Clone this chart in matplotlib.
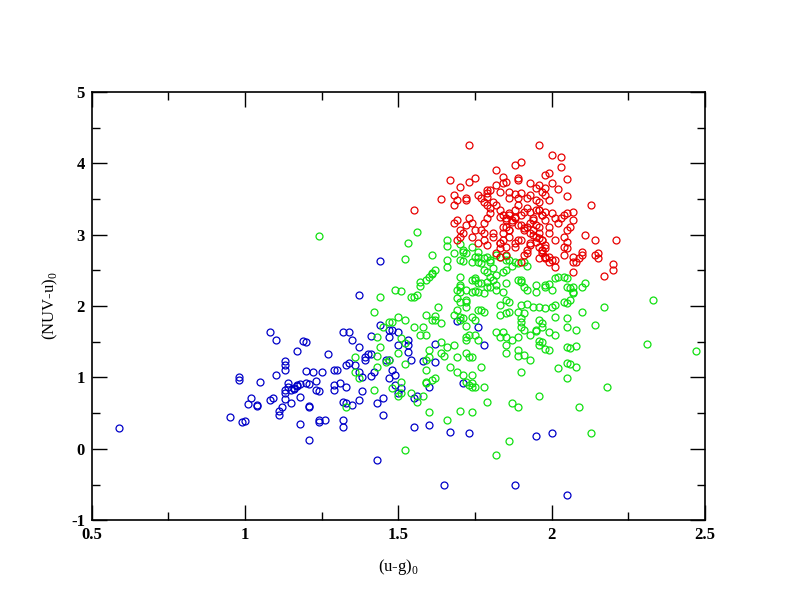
import numpy as np
import matplotlib
matplotlib.use("Agg")
import matplotlib.pyplot as plt

plt.rcParams['font.family'] = ['Liberation Serif', 'DejaVu Serif']
plt.rcParams['mathtext.fontset'] = 'custom'
plt.rcParams['mathtext.rm'] = 'Liberation Serif'
plt.rcParams['axes.unicode_minus'] = False

# (u-g)0, (NUV-u)0
blue_pts = [
    (0.59, 0.29), (0.95, 0.45), (0.99, 0.37), (1.00, 0.39), (0.98, 1.00), (0.98, 0.96), (1.05, 0.93),
    (1.01, 0.63), (1.02, 0.71), (1.04, 0.62), (1.04, 0.60), (1.08, 0.68), (1.09, 0.71), (1.08, 1.64),
    (1.10, 1.52), (1.10, 1.04), (1.11, 0.53), (1.11, 0.48), (1.12, 0.58), (1.13, 1.23), (1.13, 1.18),
    (1.13, 1.10), (1.13, 0.83), (1.13, 0.78), (1.13, 0.70), (1.14, 0.92), (1.14, 0.87), (1.15, 0.82),
    (1.16, 0.85), (1.17, 0.88), (1.18, 0.91), (1.20, 0.92), (1.15, 0.64), (1.18, 0.73), (1.18, 0.35),
    (1.17, 1.37), (1.19, 1.51), (1.20, 1.50), (1.20, 1.09), (1.21, 0.60), (1.21, 0.58), (1.21, 0.13),
    (1.27, 1.33), (1.22, 1.07), (1.25, 1.07), (1.29, 1.10), (1.30, 1.10), (1.16, 0.84), (1.17, 0.89),
    (1.21, 0.91), (1.23, 0.95), (1.23, 0.82), (1.24, 0.81), (1.29, 0.89), (1.29, 0.82), (1.31, 0.92),
    (1.24, 0.41), (1.24, 0.38), (1.26, 0.40), (1.44, 2.63), (1.37, 2.15), (1.44, 1.73), (1.32, 1.64),
    (1.34, 1.64), (1.35, 1.52), (1.37, 1.43), (1.41, 1.58), (1.47, 1.66), (1.48, 1.66), (1.50, 1.63),
    (1.47, 1.57), (1.50, 1.45), (1.53, 1.53), (1.53, 1.45), (1.53, 1.35), (1.54, 1.24), (1.62, 1.47),
    (1.62, 1.21), (1.58, 1.23), (1.60, 0.87), (1.39, 1.25), (1.39, 1.29), (1.40, 1.33), (1.41, 1.33),
    (1.33, 1.17), (1.34, 1.20), (1.36, 1.17), (1.37, 1.08), (1.38, 1.01), (1.41, 1.02), (1.42, 1.08),
    (1.46, 1.24), (1.47, 1.24), (1.48, 1.11), (1.49, 1.03), (1.47, 0.99), (1.33, 0.87), (1.38, 0.81),
    (1.49, 0.89), (1.51, 0.85), (1.56, 0.74), (1.55, 0.71), (1.32, 0.66), (1.33, 0.64), (1.35, 0.61),
    (1.37, 0.68), (1.43, 0.64), (1.45, 0.71), (1.32, 0.40), (1.32, 0.31), (1.45, 0.48), (1.55, 0.31),
    (1.60, 0.33), (1.67, 0.24), (1.73, 0.22), (1.43, -0.15), (1.69, 1.79), (1.76, 1.71), (1.71, 0.92),
    (1.78, 1.45), (1.95, 0.18), (2.00, 0.22), (1.65, -0.51), (1.88, -0.51), (2.05, -0.65), (1.50, 0.78),
]

green_pts = [
    (1.24, 2.98), (1.56, 3.04), (1.53, 2.88), (1.61, 2.71), (1.52, 2.66), (1.62, 2.50), (1.61, 2.45),
    (1.59, 2.37), (1.57, 2.34), (1.57, 2.28), (1.61, 2.46), (1.60, 2.41), (1.49, 2.23), (1.51, 2.21),
    (1.54, 2.12), (1.55, 2.12), (1.56, 2.15), (1.44, 2.12), (1.42, 1.92), (1.63, 1.98), (1.59, 1.87),
    (1.61, 1.81), (1.62, 1.80), (1.64, 1.76), (1.62, 1.86), (1.50, 1.85), (1.52, 1.81), (1.47, 1.77),
    (1.48, 1.77), (1.45, 1.70), (1.55, 1.70), (1.58, 1.70), (1.57, 1.59), (1.59, 1.59), (1.43, 1.57),
    (1.44, 1.43), (1.60, 1.38), (1.64, 1.49), (1.66, 1.43), (1.64, 1.34), (1.65, 1.30), (1.51, 1.55),
    (1.52, 1.48), (1.50, 1.34), (1.47, 1.25), (1.46, 1.21), (1.52, 1.19), (1.59, 1.24), (1.59, 1.11),
    (1.60, 1.29), (1.36, 1.29), (1.36, 1.08), (1.37, 0.99), (1.43, 1.30), (1.43, 1.15), (1.59, 0.92),
    (1.61, 0.96), (1.62, 0.99), (1.42, 0.82), (1.48, 0.85), (1.51, 0.78), (1.50, 0.74), (1.54, 0.78),
    (1.56, 0.66), (1.58, 0.74), (1.60, 0.52), (1.33, 0.59), (1.66, 0.40), (1.70, 0.53), (1.74, 0.51),
    (1.52, -0.02), (1.51, 0.94), (1.59, 0.94),
    (1.66, 2.92), (1.66, 2.84), (1.70, 2.87), (1.71, 2.75), (1.72, 2.74), (1.74, 2.82), (1.76, 2.76),
    (1.68, 2.74), (1.66, 2.65), (1.71, 2.63), (1.74, 2.61), (1.76, 2.68), (1.66, 2.55), (1.70, 2.64),
    (1.70, 2.40), (1.70, 2.29), (1.69, 2.22), (1.70, 2.20), (1.72, 2.22), (1.74, 2.20), (1.75, 2.21),
    (1.76, 2.19), (1.75, 2.37), (1.69, 2.11), (1.70, 2.06), (1.72, 1.98), (1.69, 1.94), (1.72, 2.08),
    (1.72, 2.06), (1.68, 1.87), (1.70, 1.85), (1.71, 1.83), (1.72, 1.72), (1.70, 1.80), (1.75, 1.80),
    (1.76, 1.95), (1.72, 1.57), (1.73, 1.59), (1.72, 1.53), (1.75, 1.59), (1.76, 1.52), (1.68, 1.45),
    (1.69, 1.29), (1.72, 1.34), (1.73, 1.28), (1.74, 1.29), (1.67, 1.15), (1.69, 1.08), (1.71, 1.03),
    (1.74, 1.03), (1.74, 0.92), (1.74, 0.87), (1.72, 0.94), (1.73, 0.89), (1.75, 0.87), (1.78, 0.87),
    (1.77, 1.14), (1.79, 0.65), (1.77, 2.60), (1.78, 2.67), (1.79, 2.69), (1.80, 2.65), (1.80, 2.62),
    (1.78, 2.51), (1.79, 2.48), (1.81, 2.53), (1.80, 2.41), (1.81, 2.36), (1.82, 2.43), (1.84, 2.47),
    (1.75, 2.39), (1.77, 2.32), (1.79, 2.33), (1.80, 2.26), (1.82, 2.23), (1.84, 2.19), (1.78, 2.18),
    (1.77, 1.94), (1.78, 1.92), (1.74, 1.84), (1.74, 2.36), (1.71, 2.79), (1.75, 2.69), (1.76, 2.62),
    (1.82, 2.71), (1.83, 2.69), (1.85, 2.70), (1.85, 2.65), (1.86, 2.64), (1.88, 2.62), (1.89, 2.60),
    (1.91, 2.62), (1.92, 2.56), (1.87, 2.56), (1.85, 2.50), (1.90, 2.36), (1.90, 2.33), (1.91, 2.26),
    (1.92, 2.22), (1.95, 2.29), (1.95, 2.20), (1.98, 2.27), (1.99, 2.31), (2.00, 2.22), (2.02, 2.41),
    (2.04, 2.41), (2.05, 2.39), (1.85, 2.08), (1.86, 2.06), (1.83, 2.01), (1.83, 1.87), (1.85, 1.90),
    (1.86, 1.92), (1.90, 2.01), (1.89, 1.92), (1.91, 1.90), (1.92, 2.03), (1.94, 1.98), (1.96, 1.99),
    (1.98, 1.97), (2.00, 1.98), (2.01, 2.01), (2.01, 1.84), (1.90, 1.83), (1.90, 1.71), (1.91, 1.66),
    (1.90, 1.78), (1.96, 1.80), (1.97, 1.76), (1.95, 1.66), (2.04, 2.06), (2.05, 2.04), (2.06, 2.08),
    (2.05, 1.83), (2.05, 1.71), (2.06, 2.25), (2.07, 2.27), (2.07, 2.20), (2.11, 2.32), (2.10, 1.92),
    (2.17, 1.99), (2.08, 1.66), (2.14, 1.73), (1.96, 1.51), (1.97, 1.50), (1.96, 1.45), (1.98, 1.40),
    (1.99, 1.38), (1.89, 1.38), (1.89, 1.30), (1.91, 1.31), (1.93, 1.24), (1.85, 1.34), (1.83, 1.57),
    (1.82, 1.64), (1.84, 1.64), (1.85, 1.57), (1.85, 1.45), (1.87, 1.52), (1.89, 1.57), (1.93, 1.59),
    (1.95, 1.65), (1.97, 1.71), (1.99, 1.64), (2.01, 1.59), (2.05, 1.42), (2.08, 1.44), (2.06, 1.41),
    (2.02, 1.13), (2.05, 1.20), (2.08, 1.15), (2.06, 1.19), (1.90, 1.07), (2.05, 0.99), (2.18, 0.86),
    (1.96, 0.74), (1.87, 0.64), (1.89, 0.59), (2.09, 0.59), (2.13, 0.22), (1.86, 0.11), (1.82, -0.09),
    (2.33, 2.08), (2.31, 1.47), (2.47, 1.37), (1.70, 2.27), (1.76, 2.32), (1.79, 2.27), (1.82, 2.29),
    (1.85, 2.32), (1.89, 2.36), (2.01, 2.39), (2.05, 2.27), (2.07, 2.18), (1.98, 2.29), (2.10, 2.27),
]

red_pts = [
    (1.73, 4.26), (1.96, 4.26), (2.00, 4.12), (2.03, 4.08), (2.03, 3.94), (1.88, 3.98), (1.90, 4.02),
    (1.82, 3.91), (1.67, 3.77), (1.73, 3.73), (1.75, 3.79), (1.70, 3.66), (1.64, 3.50), (1.68, 3.56),
    (1.68, 3.42), (1.69, 3.49), (1.72, 3.49), (1.72, 3.51), (1.76, 3.56), (1.77, 3.51), (1.78, 3.46),
    (1.79, 3.58), (1.79, 3.53), (1.79, 3.63), (1.84, 3.81), (1.84, 3.72), (1.89, 3.79), (1.89, 3.77),
    (1.85, 3.74), (1.82, 3.70), (1.83, 3.60), (1.80, 3.62), (1.86, 3.60), (1.86, 3.51), (1.88, 3.57),
    (1.89, 3.51), (1.89, 3.42), (1.90, 3.58), (1.93, 3.72), (1.95, 3.65), (1.96, 3.70), (1.97, 3.60),
    (1.98, 3.84), (1.99, 3.86), (2.00, 3.72), (1.98, 3.65), (2.02, 3.64), (2.05, 3.78), (2.05, 3.54),
    (2.07, 3.32), (2.13, 3.42), (1.92, 3.51), (1.93, 3.56), (1.95, 3.49), (1.96, 3.46), (1.98, 3.56),
    (1.99, 3.49), (1.82, 3.42), (1.83, 3.35), (1.84, 3.28), (1.85, 3.23), (1.86, 3.30), (1.88, 3.35),
    (1.87, 3.21), (1.88, 3.25), (1.90, 3.28), (1.91, 3.32), (1.92, 3.37), (1.93, 3.32), (1.94, 3.23),
    (1.95, 3.35), (1.96, 3.35), (1.97, 3.28), (1.98, 3.32), (2.00, 3.30), (2.01, 3.23), (2.02, 3.16),
    (2.03, 3.23), (2.04, 3.28), (2.05, 3.30), (2.07, 3.21), (2.06, 3.11), (2.05, 3.07), (2.04, 2.97),
    (2.05, 2.90), (2.05, 2.81), (2.04, 2.83), (2.04, 2.71), (2.11, 3.00), (2.14, 2.93), (2.21, 2.93),
    (2.15, 2.74), (2.14, 2.71), (2.15, 2.67), (2.20, 2.59), (2.20, 2.50), (2.17, 2.42), (2.07, 2.48),
    (2.09, 2.67), (2.10, 2.71), (2.08, 2.62), (2.07, 2.69), (2.07, 2.62), (2.10, 2.76), (2.01, 2.55),
    (2.01, 2.64), (1.99, 2.69), (1.98, 2.67), (1.98, 2.81), (1.97, 2.79), (1.98, 2.86), (1.69, 3.21),
    (1.70, 3.07), (1.68, 3.16), (1.70, 2.97), (1.69, 2.92), (1.71, 3.02), (1.72, 3.14), (1.73, 3.23),
    (1.74, 3.16), (1.75, 3.07), (1.74, 2.97), (1.76, 2.88), (1.77, 3.07), (1.78, 3.16), (1.78, 3.02),
    (1.79, 3.23), (1.80, 3.30), (1.80, 3.37), (1.79, 3.42), (1.81, 3.46), (1.78, 2.92), (1.79, 2.86),
    (1.81, 2.97), (1.83, 2.88), (1.83, 2.81), (1.84, 2.92), (1.85, 2.83), (1.86, 2.97), (1.88, 2.88),
    (1.89, 2.92), (1.90, 3.14), (1.91, 3.07), (1.92, 3.11), (1.93, 3.02), (1.94, 3.07), (1.95, 2.97),
    (1.96, 3.11), (1.96, 3.02), (1.97, 2.92), (1.95, 2.90), (1.93, 2.86), (1.96, 2.83), (1.97, 2.74),
    (1.98, 2.69), (1.96, 2.67), (1.82, 2.74), (1.83, 2.69), (1.85, 2.71), (1.91, 2.71), (1.92, 2.74),
    (1.90, 2.62), (1.99, 2.62), (1.86, 3.07), (1.85, 3.11), (1.84, 3.02), (1.55, 3.35),
    (1.83, 3.25), (1.85, 3.21), (1.86, 3.28), (1.87, 3.18), (1.84, 3.11), (1.86, 3.07), (1.88, 3.23),
    (1.89, 3.14), (1.91, 3.09), (1.93, 3.16), (1.94, 3.21), (1.95, 3.14), (1.96, 3.35), (1.97, 3.28),
    (1.98, 3.21), (1.99, 3.11), (1.94, 3.00), (1.96, 2.95), (1.97, 2.93), (1.99, 3.02), (2.01, 2.93),
    (1.93, 2.88), (1.92, 2.79), (1.97, 2.79), (1.98, 2.69), (2.00, 2.64), (1.90, 2.93), (1.88, 2.83),
    (1.83, 2.88), (1.81, 3.02),
]

groups = [
    (blue_pts, '#0000c8'),
    (green_pts, '#11e011'),
    (red_pts, '#e80000'),
]

fig = plt.figure(figsize=(7.92, 6.12), dpi=100)
ax = fig.add_axes([0.116, 0.150, 0.774, 0.700])

for pts, col in groups:
    arr = np.array(pts)
    ax.plot(arr[:, 0], arr[:, 1], linestyle='none', marker='o', markersize=5,
            markerfacecolor='none', markeredgecolor=col, markeredgewidth=0.9)

ax.set_xlim(0.5, 2.5)
ax.set_ylim(-1, 5)
ax.set_xticks(np.arange(0.5, 2.51, 0.5))
ax.set_xticklabels(['0.5', '1', '1.5', '2', '2.5'])
ax.set_xticks(np.arange(0.5, 2.51, 0.25), minor=True)
ax.set_yticks(np.arange(-1, 5.1, 1))
ax.set_yticks(np.arange(-1, 5.1, 0.5), minor=True)
ax.tick_params(which='both', direction='in', top=True, right=True, width=1)
ax.tick_params(which='major', length=11, labelsize=12, pad=5)
ax.tick_params(which='minor', length=6)
for lab in ax.get_xticklabels() + ax.get_yticklabels():
    lab.set_fontweight('bold')
for sp in ax.spines.values():
    sp.set_linewidth(1.2)

ax.set_xlabel(r'(u-g)$_0$', fontsize=12, labelpad=10)
ax.set_ylabel(r'(NUV-u)$_0$', fontsize=12, labelpad=8)

fig.savefig('out.png', dpi=100)
